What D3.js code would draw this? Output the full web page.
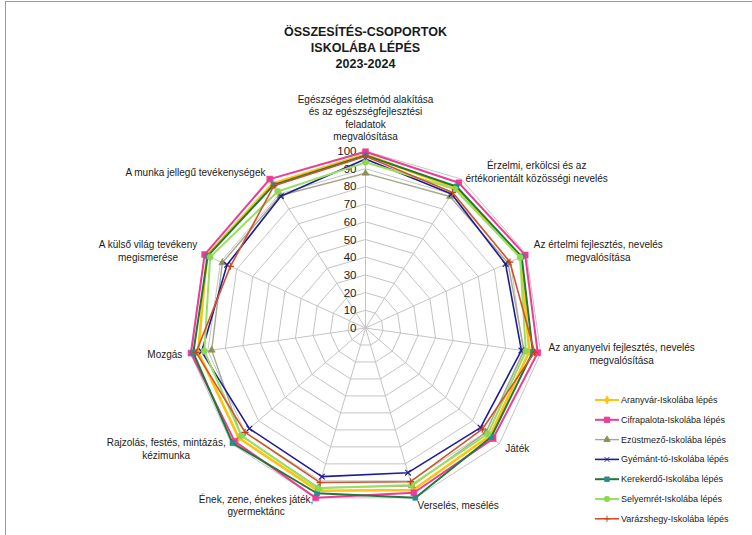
<!DOCTYPE html>
<html>
<head>
<meta charset="utf-8">
<script src="https://cdn.jsdelivr.net/npm/d3@7"></script>
<style>
  body { margin: 0; background: #fff; }
  svg text { font-family: Arial, "Liberation Sans", sans-serif; fill: #1a1a1a; }
</style>
</head>
<body>
<div id="chart"></div>
<script>
// categories (axes of the radar), clockwise from the top
var categories = [
  ["Egészséges életmód alakítása", "és az egészségfejlesztési", "feladatok", "megvalósítása"],
  ["Érzelmi, erkölcsi és az", "értékorientált közösségi  nevelés"],
  ["Az értelmi fejlesztés, nevelés", "megvalósítása"],
  ["Az anyanyelvi fejlesztés, nevelés", "megvalósítása"],
  ["Játék"],
  ["Verselés, mesélés"],
  ["Ének, zene, énekes játék,", "gyermektánc"],
  ["Rajzolás, festés, mintázás,", "kézimunka"],
  ["Mozgás"],
  ["A külső világ tevékeny", "megismerése"],
  ["A munka jellegű tevékenységek"]
];

var seriesNames = [
  "Aranyvár-Iskolába lépés",
  "Cifrapalota-Iskolába lépés",
  "Ezüstmező-Iskolába lépés",
  "Gyémánt-tó-Iskolába lépés",
  "Kerekerdő-Iskolába lépés",
  "Selyemrét-Iskolába lépés",
  "Varázshegy-Iskolába lépés"
];

// values
var aranyvar    = [98, 94, 96.5, 93.5, 93, 95.4, 95.8, 94.8, 95.5, 98.5, 97];
var cifrapalota = [99.6, 97.5, 99.2, 98.3, 95.4, 97, 100, 97.8, 99.6, 99.9, 100];
var ezustmezo   = [87.4, 88.3, 88.5, 90.5, 90, 93, 94, 93, 87.8, 88.9, 89];
var gyemantto   = [95.5, 90, 87, 89, 86, 85.2, 87.5, 86.8, 93.5, 86, 88.5];
var kerekerdo   = [97.5, 95, 97, 95.5, 94, 100, 97.3, 99.4, 98.3, 98, 96];
var selyemret   = [93.6, 93.3, 96, 91.5, 91.4, 92.4, 94.4, 92.8, 92, 96.5, 91.7];
var varazshegy  = [97, 91, 89.7, 96.5, 87.3, 90.5, 91, 90, 96.7, 83.9, 95.6];

var ticks = [0, 10, 20, 30, 40, 50, 60, 70, 80, 90, 100];
var titleLines = ["ÖSSZESÍTÉS-CSOPORTOK", "ISKOLÁBA LÉPÉS", "2023-2024"];

var allSeries = [aranyvar, cifrapalota, ezustmezo, gyemantto, kerekerdo, selyemret, varazshegy];

// thin "+" marker, stroked not filled
var plus = {
  draw: function(ctx, size) {
    var s = Math.sqrt(size) / 2;
    ctx.moveTo(-s, 0); ctx.lineTo(s, 0);
    ctx.moveTo(0, -s); ctx.lineTo(0, s);
  }
};

// styles per series: line colour, marker colour, marker type, line width
var styles = [
  { line: "#FFC20E", mark: "#FFC20E", sym: d3.symbolDiamond, size: 22, w: 2.6 },
  { line: "#EE3C96", mark: "#EE3C96", sym: d3.symbolSquare, size: 36, w: 2 },
  { line: "#A8A88E", mark: "#8E8E5A", sym: d3.symbolTriangle, size: 22, w: 1.4 },
  { line: "#1C1C9C", mark: "#1C1C9C", sym: d3.symbolX, size: 22, w: 1.6 },
  { line: "#1F7A3A", mark: "#2E8B8B", sym: d3.symbolSquare, size: 26, w: 2 },
  { line: "#98E060", mark: "#8ED850", sym: d3.symbolCircle, size: 30, w: 2 },
  { line: "#D2522A", mark: "#C0441E", sym: plus, size: 49, w: 1.6 }
];

function stroked(s) { return s.sym === d3.symbolX || s.sym === plus; }

var width = 752,
    height = 535;

var cx = 365.5,
    cy = 328;

var svg = d3.select("#chart")
  .append("svg")
  .attr("width", width)
  .attr("height", height);

// frame of the chart area (only top and left edge visible)
svg.append("rect")
  .attr("x", 5.5).attr("y", 1.5)
  .attr("width", 900).attr("height", 900)
  .style("fill", "none").style("stroke", "#9a9a9a");

// title
svg.append("g").selectAll("text")
  .data(titleLines)
  .enter().append("text")
  .attr("x", cx)
  .attr("y", function(d, i) { return 36 + i * 16; })
  .attr("text-anchor", "middle")
  .style("font-size", "12.5px")
  .style("font-weight", "bold")
  .text(function(d) { return d; });

var r = d3.scaleLinear().domain([0, 100]).range([0, 177]);

var n = categories.length;
var angle = d3.scaleLinear().domain([0, n]).range([0, 2 * Math.PI]);

function pt(i, v) {
  var a = angle(i);
  return [cx + Math.sin(a) * r(v), cy - Math.cos(a) * r(v)];
}

var g = svg.append("g");

// grid rings
g.selectAll(".ring")
  .data(ticks.slice(1))
  .enter().append("path")
  .attr("class", "ring")
  .attr("d", function(t) {
    return d3.line()(d3.range(n).map(function(i) { return pt(i, t); })) + "Z";
  })
  .style("fill", "none")
  .style("stroke", "#c4c4c4")
  .style("stroke-width", 1);

// spokes
g.selectAll(".spoke")
  .data(d3.range(n))
  .enter().append("line")
  .attr("class", "spoke")
  .attr("x1", cx).attr("y1", cy)
  .attr("x2", function(i) { return pt(i, 100)[0]; })
  .attr("y2", function(i) { return pt(i, 100)[1]; })
  .style("stroke", "#c4c4c4")
  .style("stroke-width", 1);

// tick labels along the top axis
g.selectAll(".tick")
  .data(ticks)
  .enter().append("text")
  .attr("class", "tick")
  .attr("x", cx - 9)
  .attr("y", function(t) { return cy - r(t) + 4; })
  .attr("text-anchor", "end")
  .style("font-size", "11.5px")
  .text(function(t) { return t; });

// category labels, placed outside the 100 ring
var lineH = 12.5;
var labels = g.selectAll(".cat")
  .data(categories)
  .enter().append("text")
  .attr("class", "cat")
  .style("font-size", "10px");

labels.each(function(lines, i) {
  var a = angle(i),
      dx = Math.sin(a),
      dy = -Math.cos(a),
      p = pt(i, 100);
  var px = p[0] + dx * 8,
      py = p[1] + dy * 8;
  var el = d3.select(this);
  el.selectAll("tspan")
    .data(lines)
    .enter().append("tspan")
    .attr("text-anchor", "middle")
    .text(function(d) { return d; });
  // widest line gives the block width
  var w = 0;
  el.selectAll("tspan").each(function() {
    w = Math.max(w, this.getComputedTextLength());
  });
  var h = lines.length * lineH;
  var midX, top;
  if (Math.abs(dx) < 0.15) {
    midX = px;
    top = dy < 0 ? py - h : py;
  } else {
    midX = dx > 0 ? px + w / 2 : px - w / 2;
    top = py - h / 2;
  }
  el.selectAll("tspan")
    .attr("x", midX)
    .attr("y", function(d, k) { return top + (k + 1) * lineH - 3; });
});

// series lines
var series = g.selectAll(".series")
  .data(allSeries)
  .enter().append("g")
  .attr("class", "series");

series.append("path")
  .attr("d", function(vals) {
    return d3.line()(vals.map(function(v, i) { return pt(i, v); })) + "Z";
  })
  .style("fill", "none")
  .style("stroke", function(d, k) { return styles[k].line; })
  .style("stroke-width", function(d, k) { return styles[k].w; })
  .style("stroke-linejoin", "round");

series.each(function(vals, k) {
  var s = styles[k];
  d3.select(this).selectAll(".mk")
    .data(vals)
    .enter().append("path")
    .attr("class", "mk")
    .attr("transform", function(v, i) { return "translate(" + pt(i, v) + ")"; })
    .attr("d", d3.symbol().type(s.sym).size(s.size))
    .style("fill", s.sym === plus ? "none" : s.mark)
    .style("stroke", s.mark)
    .style("stroke-width", stroked(s) ? 1.2 : 0.5);
});

// legend
var legend = svg.append("g")
  .attr("transform", "translate(595,400)");

var item = legend.selectAll(".item")
  .data(seriesNames)
  .enter().append("g")
  .attr("class", "item")
  .attr("transform", function(d, k) { return "translate(0," + (k * 19.8) + ")"; });

item.append("line")
  .attr("x1", 0).attr("x2", 24)
  .style("stroke", function(d, k) { return styles[k].line; })
  .style("stroke-width", function(d, k) { return Math.min(styles[k].w, 2); });

item.append("path")
  .attr("transform", "translate(12,0)")
  .attr("d", function(d, k) { return d3.symbol().type(styles[k].sym).size(styles[k].size * 0.8)(); })
  .style("fill", function(d, k) { return styles[k].sym === plus ? "none" : styles[k].mark; })
  .style("stroke", function(d, k) { return styles[k].mark; })
  .style("stroke-width", 0.9);

item.append("text")
  .attr("x", 26)
  .attr("y", 3)
  .style("font-size", "9px")
  .text(function(d) { return d; });
</script>
</body>
</html>
